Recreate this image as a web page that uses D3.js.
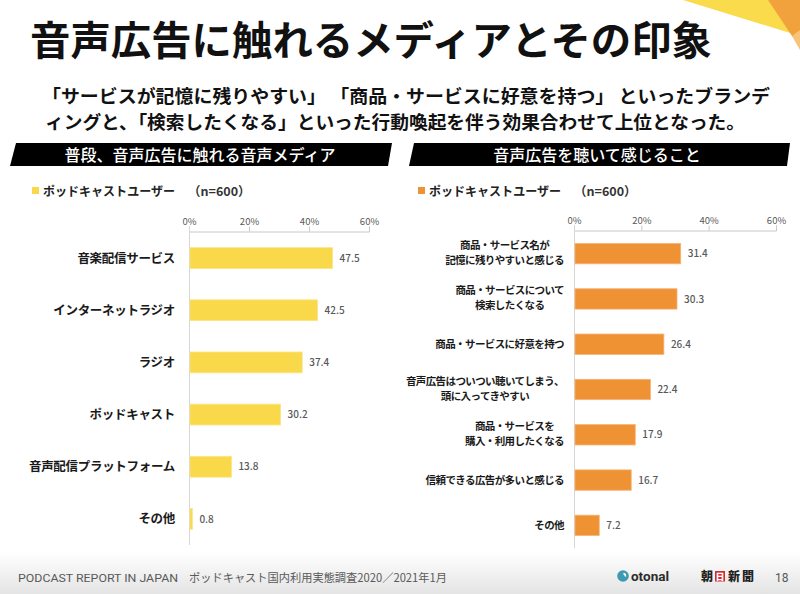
<!DOCTYPE html>
<html><head><meta charset="utf-8">
<script src="https://cdn.jsdelivr.net/npm/d3@7"></script>
<style>
body{margin:0;background:#fff;}
svg{display:block;font-family:"Noto Sans CJK JP","Noto Sans",sans-serif;}
</style>
</head><body><svg id="c" width="800" height="594"></svg>
<script>
// ---------- data ----------
const title = "音声広告に触れるメディアとその印象";
const subtitleLines = [
  "「サービスが記憶に残りやすい」 「商品・サービスに好意を持つ」 といったブランデ",
  "ィングと、「検索したくなる」といった行動喚起を伴う効果合わせて上位となった。"
];
const leftHeader = "普段、音声広告に触れる音声メディア";
const rightHeader = "音声広告を聴いて感じること";
const legendLabel = "ポッドキャストユーザー";
const legendN = "（n=600）";
const mediaCategories = ["音楽配信サービス","インターネットラジオ","ラジオ","ポッドキャスト","音声配信プラットフォーム","その他"];
const mediaValues = [47.5, 42.5, 37.4, 30.2, 13.8, 0.8];
const impressionCategories = [
  "商品・サービス名が\n記憶に残りやすいと感じる",
  "商品・サービスについて\n検索したくなる",
  "商品・サービスに好意を持つ",
  "音声広告はついつい聴いてしまう、\n頭に入ってきやすい",
  "商品・サービスを\n購入・利用したくなる",
  "信頼できる広告が多いと感じる",
  "その他"
];
const impressionValues = [31.4, 30.3, 26.4, 22.4, 17.9, 16.7, 7.2];
const tickValues = [0, 20, 40, 60];
const footerEn = "PODCAST REPORT IN JAPAN";
const footerJa = "ポッドキャスト国内利用実態調査2020／2021年1月";
const pageNumber = "18";

// ---------- drawing ----------
const svg = d3.select("#c");
const defs = svg.append("defs");
const grad = defs.append("linearGradient").attr("id","fg").attr("x1",0).attr("y1",0).attr("x2",0).attr("y2",1);
grad.append("stop").attr("offset","0%").attr("stop-color","#ffffff");
grad.append("stop").attr("offset","100%").attr("stop-color","#e4e4e4");

svg.append("rect").attr("width",800).attr("height",594).attr("fill","#fff");
svg.append("rect").attr("x",0).attr("y",552).attr("width",800).attr("height",42).attr("fill","url(#fg)");

// corner decoration
svg.append("polygon").attr("points","683,0 800,0 800,36").attr("fill","#FADB4C");
svg.append("polygon").attr("points","768,0 800,0 800,44 792,36").attr("fill","#F2A23C");
svg.append("polygon").attr("points","792,36 800,30 800,50").attr("fill","#F7C27A");

// title
svg.append("text").attr("x",30).attr("y",55).attr("font-size",40).attr("font-weight",700)
  .attr("fill","#111").attr("textLength",682).attr("lengthAdjust","spacingAndGlyphs").text(title);

// subtitle
svg.append("text").attr("x",42).attr("y",103).attr("font-size",18).attr("font-weight",700)
  .attr("fill","#111").attr("textLength",728).attr("lengthAdjust","spacingAndGlyphs").text(subtitleLines[0]);
svg.append("text").attr("x",45).attr("y",129).attr("font-size",18).attr("font-weight",700)
  .attr("fill","#111").attr("textLength",700).attr("lengthAdjust","spacingAndGlyphs").text(subtitleLines[1]);

function header(pts, cx, label){
  svg.append("polygon").attr("points",pts).attr("fill","#000");
  svg.append("text").attr("x",cx).attr("y",155).attr("dy","0.36em").attr("text-anchor","middle")
    .attr("font-size",16).attr("font-weight",500).attr("fill","#fff").text(label);
}
header("16,143 392,143 388,166 10,166", 200, leftHeader);
header("414,143 790,143 787,166 409,166", 597, rightHeader);

function legend(x, color, nx){
  svg.append("rect").attr("x",x).attr("y",187).attr("width",7).attr("height",7).attr("fill",color);
  svg.append("text").attr("x",x+11).attr("y",191).attr("dy","0.36em").attr("font-size",12.5).attr("font-weight",700)
    .attr("fill","#222").attr("textLength",132).attr("lengthAdjust","spacingAndGlyphs").text(legendLabel);
  svg.append("text").attr("x",nx).attr("y",191).attr("dy","0.36em").attr("font-size",12.5).attr("font-weight",700)
    .attr("fill","#333").text(legendN);
}
legend(32, "#F9D84A", 188);
legend(418, "#EE9233", 574);

function panel(o){
  const x = d3.scaleLinear().domain([0,60]).range([o.x0, o.x1]);
  const y = d3.scaleBand().domain(o.cats).range([o.y0, o.y1]).paddingInner(o.pi).paddingOuter(o.pi/2);
  const g = svg.append("g");
  const ax = g.append("g").attr("transform",`translate(0,${o.y0 - 0.5})`)
    .call(d3.axisTop(x).tickValues(tickValues).tickSize(5).tickSizeOuter(5).tickPadding(2).tickFormat(d => d + "%"));
  ax.select(".domain").attr("stroke","#c8c8c8");
  ax.selectAll(".tick line").attr("stroke","#c8c8c8");
  ax.selectAll(".tick text").attr("fill","#595959").attr("font-size",9.5)
    .attr("font-family","'Noto Sans CJK JP',sans-serif");
  g.append("line").attr("x1",o.x0+0.5).attr("x2",o.x0+0.5).attr("y1",o.y0-5).attr("y2",o.y1)
    .attr("stroke","#d6d6d6").attr("stroke-width",1);
  const data = o.cats.map((c,i)=>({c, v:o.vals[i]}));
  g.selectAll("rect.bar").data(data).join("rect").attr("class","bar")
    .attr("x", x(0)+1).attr("y", d=>y(d.c)).attr("height", y.bandwidth())
    .attr("width", d => x(d.v)-x(0)).attr("fill", o.color).attr("stroke", o.stroke).attr("stroke-width",0.8);
  g.selectAll("text.val").data(data).join("text").attr("class","val")
    .attr("x", d => x(d.v)+8).attr("y", d => y(d.c)+y.bandwidth()/2).attr("dy","0.36em")
    .attr("font-size",10).attr("font-weight",500).attr("fill","#595959").text(d => d.v.toFixed(1));
  // category labels
  data.forEach(d => {
    const lines = d.c.split("\n");
    const cy = y(d.c) + y.bandwidth()/2;
    const t = g.append("text").attr("font-size",o.fs).attr("font-weight",700).attr("fill","#1a1a1a")
      .attr("letter-spacing",o.ls);
    if(lines.length === 1){
      t.attr("x",o.lx).attr("y",cy).attr("dy","0.36em").attr("text-anchor","end").text(lines[0]);
    } else {
      const spans = lines.map((l,i)=> t.append("tspan").attr("y", cy + (i - (lines.length-1)/2)*o.lh - 1).attr("dy","0.36em").text(l));
      const widths = spans.map(s => s.node().getComputedTextLength());
      const w = d3.max(widths);
      t.attr("text-anchor","middle");
      spans.forEach(s => s.attr("x", o.lx - w/2));
    }
  });
}

panel({cats: mediaCategories, vals: mediaValues, x0:189, x1:369, y0:232, y1:545, pi:0.6,
  color:"#F9D84A", stroke:"#FBE58A", lx:175, fs:12.5, ls:-0.3, lh:14});
panel({cats: impressionCategories, vals: impressionValues, x0:574, x1:776, y0:231, y1:548, pi:0.55,
  color:"#EE9233", stroke:"#F4B57A", lx:564, fs:10.5, ls:-0.6, lh:15});

// footer
svg.append("text").attr("x",18).attr("y",582).attr("font-family","Roboto,sans-serif").attr("font-size",11.5)
  .attr("fill","#595959").attr("textLength",160).attr("lengthAdjust","spacingAndGlyphs").text(footerEn);
svg.append("text").attr("x",189).attr("y",582).attr("font-size",11.5)
  .attr("fill","#595959").attr("textLength",258).attr("lengthAdjust","spacingAndGlyphs").text(footerJa);

// otonal logo
svg.append("circle").attr("cx",623).attr("cy",576).attr("r",5.8).attr("fill","#3C9BB1");
svg.append("path").attr("d", d3.arc()({innerRadius:1.5, outerRadius:3.2, startAngle:0.2, endAngle:1.8}))
  .attr("transform","translate(623,576)").attr("fill","#fff");
svg.append("text").attr("x",631).attr("y",580.5).attr("font-family","Roboto,sans-serif").attr("font-weight",700)
  .attr("font-size",13.5).attr("fill","#2b2b2b").text("otonal");

// asahi logo
svg.append("text").attr("x",701).attr("y",581).attr("font-size",12).attr("font-weight",900).attr("fill","#222").text("朝");
svg.append("rect").attr("x",715).attr("y",571).attr("width",10).attr("height",10.5).attr("fill","#D7282F");
svg.append("text").attr("x",720).attr("y",580).attr("text-anchor","middle").attr("font-size",9).attr("font-weight",900).attr("fill","#fff").text("日");
svg.append("text").attr("x",728).attr("y",581).attr("font-size",12).attr("font-weight",900).attr("fill","#222")
  .attr("letter-spacing",2).text("新聞");

svg.append("text").attr("x",775).attr("y",582).attr("font-family","Roboto,sans-serif").attr("font-size",12)
  .attr("fill","#595959").text(pageNumber);
</script>
</body></html>
